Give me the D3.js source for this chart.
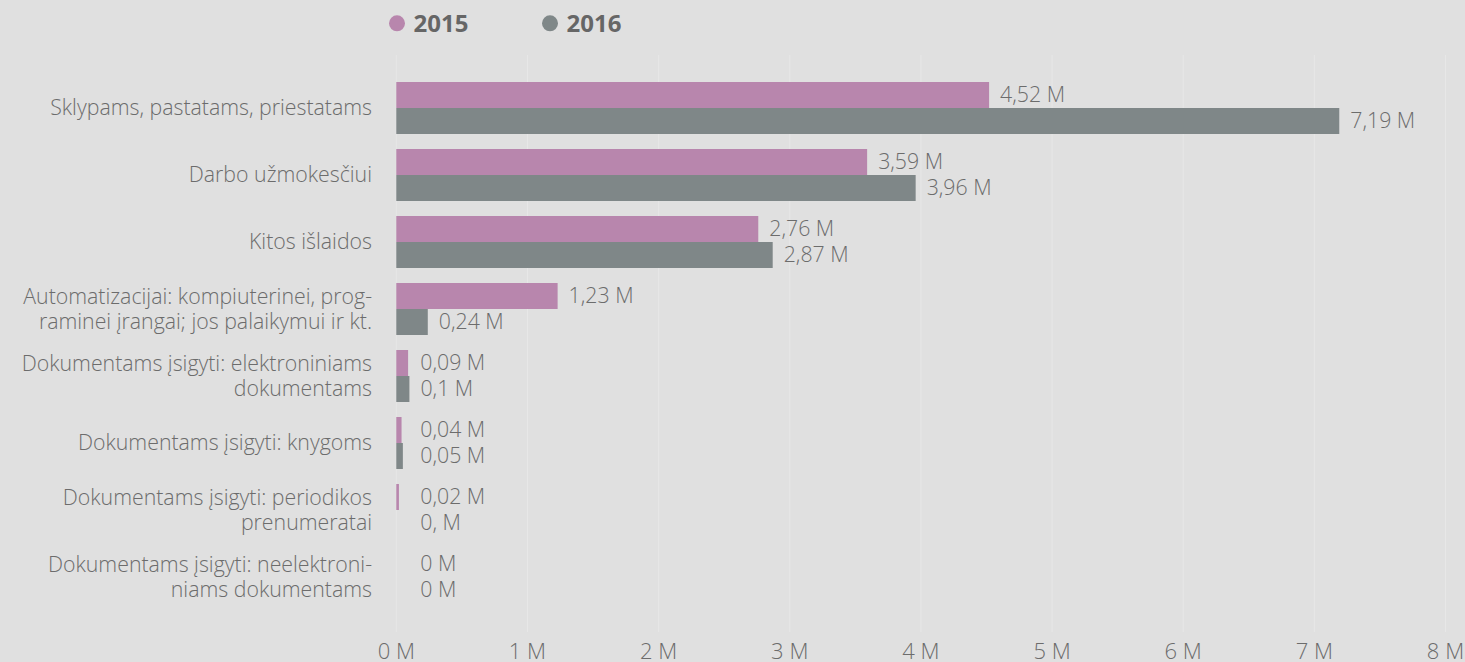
<!DOCTYPE html>
<html><head><meta charset="utf-8">
<script src="https://cdn.jsdelivr.net/npm/d3@7/dist/d3.min.js"></script>
<style>
html,body{margin:0;padding:0;background:#e0e0e0;}
svg{display:block;font-family:"Open Sans",Lato,sans-serif;}
</style></head><body>
<svg id="c" width="1465" height="662"></svg>
<script>
const categories = [
  ["Sklypams, pastatams, priestatams"],
  ["Darbo užmokesčiui"],
  ["Kitos išlaidos"],
  ["Automatizacijai: kompiuterinei, prog-", "raminei įrangai; jos palaikymui ir kt."],
  ["Dokumentams įsigyti: elektroniniams", "dokumentams"],
  ["Dokumentams įsigyti: knygoms"],
  ["Dokumentams įsigyti: periodikos", "prenumeratai"],
  ["Dokumentams įsigyti: neelektroni-", "niams dokumentams"]
];
const seriesNames = ["2015", "2016"];
const values2015 = [4.52, 3.59, 2.76, 1.23, 0.09, 0.04, 0.02, 0];
const values2016 = [7.19, 3.96, 2.87, 0.24, 0.10, 0.05, 0.004, 0];
const labels2015 = ["4,52 M", "3,59 M", "2,76 M", "1,23 M", "0,09 M", "0,04 M", "0,02 M", "0 M"];
const labels2016 = ["7,19 M", "3,96 M", "2,87 M", "0,24 M", "0,1 M", "0,05 M", "0, M", "0 M"];
const xTicks = [0, 1, 2, 3, 4, 5, 6, 7, 8];
const colors = ["#b886ad", "#7f8788"];

const FS = 21.3, TXT = "#6c6c6c";
const svg = d3.select("#c");
const x = d3.scaleLinear().domain([0, 8]).range([396.3, 1445.5]);
const y = d3.scaleBand().domain(d3.range(categories.length)).range([74.5, 610.5]).paddingInner(15/67).paddingOuter(15/67/2);
const sub = d3.scaleBand().domain([0, 1]).range([0, y.bandwidth()]);

// grid
svg.append("g").selectAll("line").data(xTicks).join("line")
  .attr("x1", d => x(d)).attr("x2", d => x(d))
  .attr("y1", 55).attr("y2", 632)
  .attr("stroke", "#e7e7e7").attr("stroke-width", 1);

// axis labels
svg.append("g").selectAll("text").data(xTicks).join("text")
  .attr("x", d => x(d)).attr("y", 659)
  .attr("text-anchor", "middle").attr("font-size", 22).attr("font-weight", 300).attr("fill", TXT)
  .text(d => d + " M");

const series = [values2015, values2016];
const labs = [labels2015, labels2016];
series.forEach((vals, s) => {
  svg.append("g").selectAll("rect").data(vals).join("rect")
    .attr("x", x(0)).attr("y", (d, i) => y(i) + sub(s))
    .attr("width", d => d < 0.01 ? 0 : x(d) - x(0))
    .attr("height", sub.bandwidth())
    .attr("fill", colors[s]);
  svg.append("g").selectAll("text").data(vals).join("text")
    .attr("x", d => Math.max(x(d), x(0) + 13) + 11)
    .attr("y", (d, i) => y(i) + sub(s) + sub.bandwidth() / 2)
    .attr("dy", "0.35em").attr("font-size", FS).attr("font-weight", 300).attr("fill", TXT)
    .text((d, i) => labs[s][i]);
});

// category labels
const cg = svg.append("g");
categories.forEach((lines, i) => {
  const cy = y(i) + y.bandwidth() / 2;
  const lh = 25;
  lines.forEach((ln, k) => {
    cg.append("text")
      .attr("x", 372).attr("y", cy + (k - (lines.length - 1) / 2) * lh)
      .attr("dy", "0.35em").attr("text-anchor", "end")
      .attr("font-size", FS).attr("font-weight", 300).attr("fill", TXT).text(ln);
  });
});

// legend
const lg = svg.append("g");
const lx = [397, 550];
seriesNames.forEach((n, s) => {
  lg.append("circle").attr("cx", lx[s]).attr("cy", 23.3).attr("r", 8).attr("fill", colors[s]);
  lg.append("text").attr("x", lx[s] + 16.5).attr("y", 23.3).attr("dy", "0.36em")
    .attr("font-size", 24).attr("font-weight", "bold").attr("fill", "#666").text(n);
});
</script>
</body></html>
